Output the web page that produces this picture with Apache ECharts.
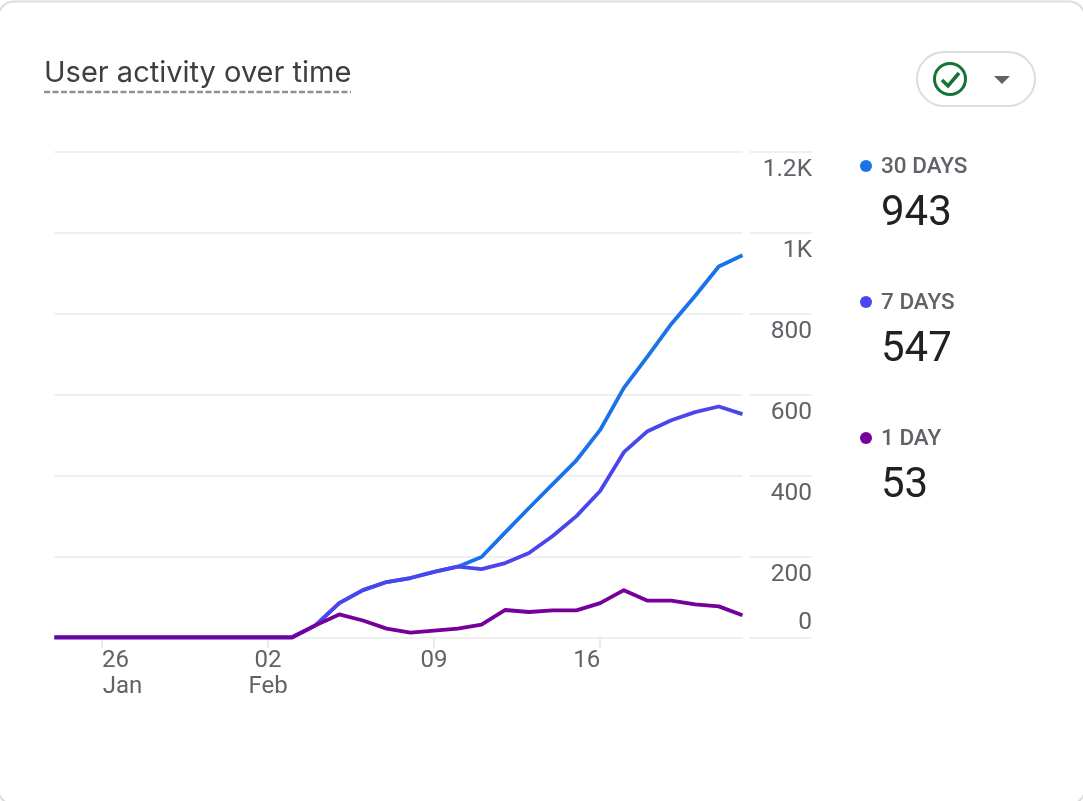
<!DOCTYPE html>
<html><head><meta charset="utf-8">
<style>html,body{margin:0;padding:0;background:#fff;overflow:hidden}#c{width:1083px;height:801px}</style>
<script src="https://cdn.jsdelivr.net/npm/echarts@6/dist/echarts.min.js"></script>
</head><body><div id="c"></div>
<script>
const categories = ['Jan 24','Jan 25','Jan 26','Jan 27','Jan 28','Jan 29','Jan 30','Jan 31','Feb 01','Feb 02','Feb 03','Feb 04','Feb 05','Feb 06','Feb 07','Feb 08','Feb 09','Feb 10','Feb 11','Feb 12','Feb 13','Feb 14','Feb 15','Feb 16','Feb 17','Feb 18','Feb 19','Feb 20','Feb 21','Feb 22'];
const days30 = [0,0,0,0,0,0,0,0,0,0,0,30,85,117,137,147,162,175,199,260,320,379,438,513,617,695,775,844,917,945];
const days7  = [0,0,0,0,0,0,0,0,0,0,0,30,85,117,137,147,162,175,169,184,209,251,300,362,458,510,537,557,571,552];
const days1  = [0,0,0,0,0,0,0,0,0,0,0,30,57,42,22,12,17,22,32,68,63,67,67,85,117,91,91,82,77,55];
const seriesNames = ['30 DAYS','7 DAYS','1 DAY'];
const seriesTotals = [943,547,53];
const seriesColors = ['#1a73e8','#4b46ec','#75009b'];
const xTickLabels = {'Jan 26':'{s27|}{l|26}\n{s41|}{l|Jan}','Feb 02':'02\nFeb','Feb 09':'09','Feb 16':'{l|16}{s27|}'};
const yTickLabels = {0:'{z|0}',200:'{t|200}',400:'{t|400}',600:'{t|600}',800:'{t|800}',1000:'{t|1K}',1200:'{t|1.2K}'};
const titleText = 'User activity over time';

const FONT = 'Roboto';
const GRID = '#e8eaed';
const LABEL = '#5f6368';
const chart = echarts.init(document.getElementById('c'), null, {renderer:'canvas'});
const tickShown = (i) => xTickLabels[categories[i]] !== undefined;
const lineSeries = (name, data, color) => ({
  name, type:'line', data, xAxisIndex:0, yAxisIndex:0, showSymbol:false, symbol:'none',
  lineStyle:{color, width:3.8, cap:'butt', join:'round'}, itemStyle:{color}, animation:false, z:3
});
chart.setOption({
  animation:false,
  backgroundColor:'#fff',
  textStyle:{fontFamily:FONT},
  title:{text:titleText, left:44, top:58.5, padding:0,
    textStyle:{fontFamily:'Inter', fontSize:29, fontWeight:400, color:'#3c4043'}},
  legend:{
    show:true, orient:'vertical', left:860, top:93, selectedMode:false,
    itemWidth:12, itemHeight:12, itemGap:-10, icon:'circle', padding:0,
    data:seriesNames,
    formatter:(n)=>`{b|}\n{n|${n}}\n{v|${seriesTotals[seriesNames.indexOf(n)]}}`,
    textStyle:{fontFamily:FONT, rich:{
      b:{lineHeight:52,height:52,padding:[0,0,0,4]},
      n:{fontFamily:FONT,fontSize:22.5,fontWeight:500,color:LABEL,lineHeight:44,height:44,padding:[0,0,0,4]},
      v:{fontFamily:FONT,fontSize:42,fontWeight:400,color:'#202124',lineHeight:50,height:50,padding:[0,0,0,4]}
    }}
  },
  grid:[
    {left:54.5, top:152, width:688, height:485.5},
    {left:750, top:152, width:62, height:485.5}
  ],
  xAxis:[
    {type:'category', gridIndex:0, data:categories, boundaryGap:false,
      axisLine:{show:false},
      axisTick:{show:true, alignWithLabel:true, interval:(i)=>tickShown(i), length:10, lineStyle:{color:GRID,width:2}},
      axisLabel:{show:true, interval:(i)=>tickShown(i), margin:10, color:LABEL, fontFamily:FONT, fontSize:24, lineHeight:26,
        formatter:(v)=>xTickLabels[v]||'', hideOverlap:false,
        rich:{
          s27:{width:27,fontSize:24,lineHeight:26},
          s41:{width:41,fontSize:24,lineHeight:26},
          l:{fontFamily:FONT,fontSize:24,color:LABEL,lineHeight:26}
        }},
      splitLine:{show:false}},
    {type:'category', gridIndex:1, data:categories, show:false, boundaryGap:false}
  ],
  yAxis:[
    {type:'value', gridIndex:0, min:0, max:1200, interval:200,
      axisLine:{show:false}, axisTick:{show:false}, axisLabel:{show:false},
      splitLine:{show:true, lineStyle:{color:GRID,width:1.5}}},
    {type:'value', gridIndex:1, min:0, max:1200, interval:200, position:'right',
      axisLine:{show:false}, axisTick:{show:false},
      axisLabel:{show:true, inside:true, margin:0, color:LABEL, fontFamily:FONT, fontSize:24.5,
        verticalAlign:'top', verticalAlignMinLabel:'bottom',
        formatter:(v)=>yTickLabels[v],
        rich:{
          t:{fontFamily:FONT,fontSize:24.5,color:LABEL,lineHeight:36},
          z:{fontFamily:FONT,fontSize:24.5,color:LABEL,lineHeight:30}
        }},
      splitLine:{show:true, lineStyle:{color:GRID,width:1.5}}}
  ],
  series:[
    lineSeries(seriesNames[0], days30, seriesColors[0]),
    lineSeries(seriesNames[1], days7, seriesColors[1]),
    lineSeries(seriesNames[2], days1, seriesColors[2])
  ],
  graphic:[
    {type:'rect', silent:true, z:-1, shape:{x:-2,y:1.5,width:1087,height:803,r:16}, style:{fill:'#fff',stroke:'#dadce0',lineWidth:2}},
    {type:'line', silent:true, shape:{x1:44,y1:92,x2:351,y2:92}, style:{stroke:'#8c9196',lineWidth:2.5,lineDash:[6,2.5]}},
    {type:'rect', silent:true, shape:{x:917,y:52,width:118,height:54,r:27}, style:{fill:'#fff',stroke:'#dadce0',lineWidth:2}},
    {type:'circle', silent:true, shape:{cx:950,cy:79,r:15.5}, style:{fill:'none',stroke:'#137333',lineWidth:3}},
    {type:'polyline', silent:true, shape:{points:[[942,80],[948,86],[959,73]]}, style:{fill:'none',stroke:'#137333',lineWidth:3.5}},
    {type:'polygon', silent:true, shape:{points:[[994,76],[1010,76],[1002,84]]}, style:{fill:LABEL}}
  ]
});
</script></body></html>
